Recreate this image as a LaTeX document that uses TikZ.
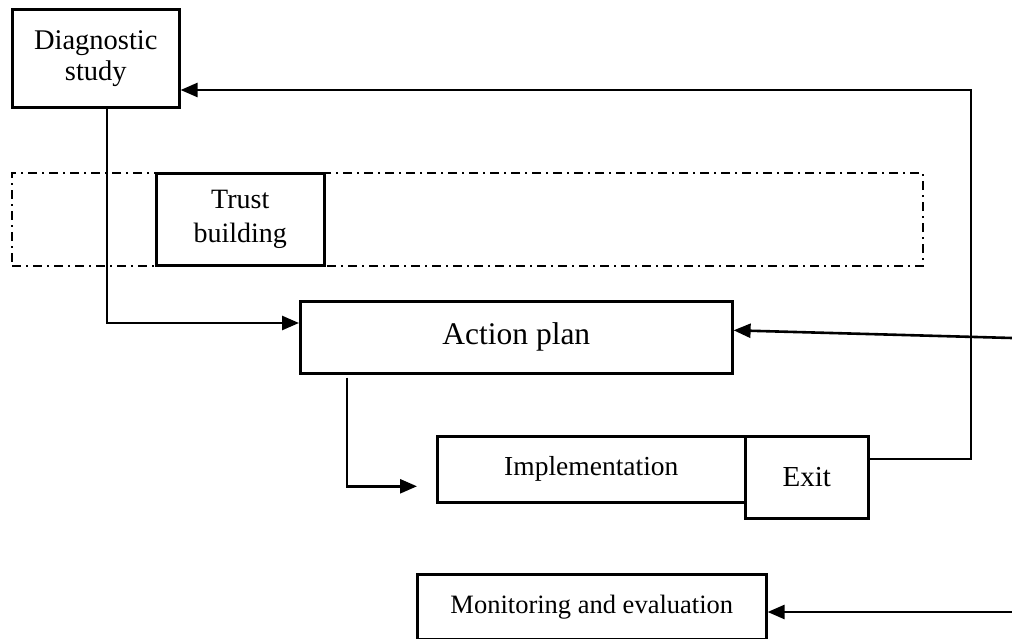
\documentclass[tikz,border=0pt]{standalone}
\usepackage{fontspec}
\setmainfont{Liberation Serif}
\usetikzlibrary{arrows.meta,calc}
\begin{document}
\begin{tikzpicture}[x=1pt,y=-1pt,
  box/.style={draw,line width=2.6pt,inner sep=0pt,anchor=north west,align=center},
  arr/.style={line width=2.6pt,-{Triangle[length=17pt,width=14pt]}},
  conn/.style={line width=2.6pt}]
\useasboundingbox (0,0) rectangle (1012,639);
\fill[white] (0,0) rectangle (1012,639);
% dashed frame
\node[draw,line width=2.2pt,dash pattern=on 9pt off 5pt on 2pt off 5pt,inner sep=0pt,anchor=north west,
  minimum width=911pt,minimum height=93pt] (frame) at (11,172) {};
% boxes
\node[box,minimum width=167pt,minimum height=98pt,font=\fontsize{28.5}{31}\selectfont] (diag) at (11,8) {Diagnostic\\study};
\node[box,minimum width=168pt,minimum height=92pt,font=\fontsize{28}{34}\selectfont] (trust) at (155,172) {Trust\\building};
\node[box,minimum width=432pt,minimum height=72pt,font=\fontsize{31.5}{34}\selectfont] (action) at (299,300) {Action plan};
\node[box,minimum width=308pt,minimum height=66pt,font=\fontsize{27.5}{33}\selectfont] (impl) at (436,435) {Implementation};
\node[box,minimum width=123pt,minimum height=82pt,font=\fontsize{29}{30}\selectfont] (exit) at (744,435) {Exit};
\node[box,minimum width=349pt,minimum height=65pt,font=\fontsize{26.5}{31}\selectfont] (mon) at (416,573) {Monitoring and evaluation};
% connector coordinates
\coordinate (ain) at ($(action.north west)+(0,23)$);
\coordinate (dout) at ($(diag.south west)+(96,0)$);
\coordinate (aout) at ($(action.south west)+(48,3)$);
\coordinate (itip) at ($(impl.west)+(-19,17)$);
\coordinate (eout) at ($(exit.north east)+(0,24)$);
\coordinate (corner) at (971,90);
\coordinate (dtip) at ($(diag.north east)+(0,82)$);
\coordinate (r1) at (1012,338);
\coordinate (atip) at ($(action.east)+(0,-7)$);
\coordinate (r2) at (1012,612);
\coordinate (mtip) at (mon.east |- r2);
% connectors
\draw[arr] (dout) |- (ain);
\draw[arr] (aout) |- (itip);
\draw[arr] (eout) -| (corner) -- (dtip);
\draw[arr] (r1) -- (atip);
\draw[arr] (r2) -- (mtip);
\end{tikzpicture}
\end{document}
